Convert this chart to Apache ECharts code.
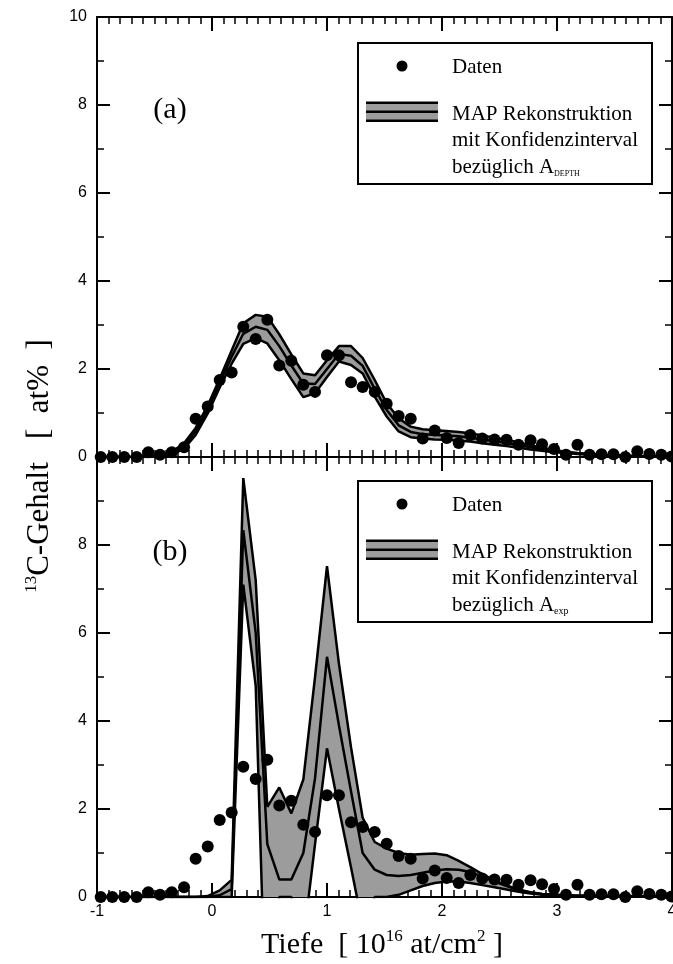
<!DOCTYPE html>
<html>
<head>
<meta charset="utf-8">
<script src="https://cdn.jsdelivr.net/npm/echarts@6/dist/echarts.min.js"></script>
<style>
html,body{margin:0;padding:0;background:#fff;}
#c{width:673px;height:964px;}
</style>
</head>
<body>
<div id="c"></div>
<script>
// ---- data (depth in 10^16 at/cm^2, 13C content in at%) ----
const depth = [-0.968,-0.867,-0.763,-0.655,-0.554,-0.452,-0.350,-0.243,-0.142,-0.037,
  0.067,0.171,0.272,0.380,0.481,0.585,0.690,0.794,0.896,1.000,
  1.104,1.209,1.310,1.415,1.519,1.623,1.728,1.832,1.937,2.041,
  2.145,2.246,2.350,2.457,2.561,2.665,2.770,2.870,2.974,3.078,
  3.178,3.283,3.387,3.491,3.594,3.698,3.803,3.907,3.996];

const daten = [0,0,0,0,0.11,0.05,0.11,0.22,0.87,1.15,
  1.75,1.92,2.96,2.68,3.12,2.08,2.19,1.64,1.48,2.31,
  2.31,1.70,1.59,1.48,1.21,0.93,0.87,0.42,0.60,0.43,
  0.32,0.50,0.42,0.40,0.39,0.28,0.38,0.29,0.18,0.05,
  0.28,0.05,0.06,0.06,0,0.13,0.07,0.05,0.01];

// (a) MAP reconstruction, confidence interval w.r.t. A_DEPTH
const topLow = [0,0,0,0,0,0.01,0.05,0.19,0.50,0.99,
  1.58,2.12,2.57,2.70,2.58,2.20,1.77,1.36,1.45,1.82,
  2.17,2.09,1.90,1.37,0.92,0.58,0.45,0.42,0.40,0.39,
  0.37,0.35,0.31,0.28,0.25,0.21,0.17,0.14,0.11,0.09,
  0.07,0.05,0.04,0.03,0.02,0.015,0.01,0.005,0.005];
const topMid = [0,0,0,0,0.005,0.02,0.08,0.25,0.58,1.08,
  1.68,2.28,2.80,2.96,2.89,2.52,2.08,1.67,1.66,2.00,
  2.34,2.30,2.07,1.55,1.07,0.72,0.57,0.52,0.50,0.49,
  0.47,0.44,0.40,0.36,0.32,0.27,0.22,0.18,0.13,0.10,
  0.08,0.06,0.045,0.035,0.025,0.02,0.012,0.008,0.008];
const topUp = [0,0,0,0,0.01,0.04,0.12,0.31,0.66,1.17,
  1.78,2.42,3.04,3.23,3.19,2.79,2.33,1.90,1.86,2.20,
  2.52,2.52,2.25,1.75,1.22,0.88,0.69,0.63,0.61,0.59,
  0.57,0.54,0.49,0.44,0.39,0.33,0.27,0.21,0.16,0.12,
  0.09,0.07,0.05,0.04,0.03,0.02,0.015,0.01,0.01];

// (b) MAP reconstruction, confidence interval w.r.t. A_exp
const botLow = [0,0,0,0,0,0,0,0,0,0,
  0,0,7.1,4.8,-4.0,0,0,-1.0,1.2,3.38,
  2.0,0.67,-0.65,0,0,0.05,0.15,0.25,0.32,0.35,
  0.35,0.32,0.27,0.22,0.17,0.12,0.08,0.05,0.04,0.03,
  0.02,0.02,0.02,0.015,0.01,0.01,0.01,0.005,0.005];
const botMid = [0,0,0,0,0,0,0,0,0,0,
  0.04,0.18,8.34,6.0,1.2,0.4,0.4,1.0,2.7,5.46,
  3.9,2.4,1.0,0.62,0.5,0.48,0.5,0.55,0.6,0.63,
  0.62,0.57,0.46,0.35,0.25,0.16,0.1,0.07,0.05,0.04,
  0.03,0.03,0.02,0.02,0.015,0.01,0.01,0.008,0.008];
const botUp = [0,0,0,0,0,0,0,0,0,0.02,
  0.15,0.39,9.52,7.2,2.05,2.49,1.90,2.67,5.0,7.52,
  5.3,3.4,1.8,1.25,1.1,1.0,0.96,0.98,0.99,0.95,
  0.82,0.68,0.52,0.38,0.26,0.17,0.11,0.07,0.05,0.04,
  0.03,0.03,0.02,0.02,0.02,0.02,0.01,0.01,0.01];

const xRange = [-1, 4];
const yRange = [0, 10];

// ---- styling ----
const BLACK = '#000';
const GRAY = '#9c9c9c';
const SANS = 'Liberation Sans, Arial, sans-serif';
const SERIF = 'Liberation Serif, Times New Roman, serif';

function xAxisCfg(gridIndex, position, showLabel) {
  return {
    type: 'value', gridIndex: gridIndex, position: position,
    min: xRange[0], max: xRange[1], interval: 1,
    axisLine: {show: true, onZero: false, lineStyle: {color: BLACK, width: 2}},
    axisTick: {show: true, inside: true, length: 14, lineStyle: {color: BLACK, width: 2}},
    minorTick: {show: true, splitNumber: 10, length: 7, lineStyle: {color: BLACK, width: 1.5}},
    splitLine: {show: false}, minorSplitLine: {show: false},
    axisLabel: {show: showLabel, color: BLACK, fontFamily: SANS, fontSize: 16, margin: 7,
      showMinLabel: true, showMaxLabel: true, hideOverlap: false}
  };
}
function yAxisCfg(gridIndex, position, showLabel, showMax) {
  return {
    type: 'value', gridIndex: gridIndex, position: position,
    min: yRange[0], max: yRange[1], interval: 2,
    axisLine: {show: true, onZero: false, lineStyle: {color: BLACK, width: 2}},
    axisTick: {show: true, inside: true, length: 13, lineStyle: {color: BLACK, width: 2}},
    minorTick: {show: true, splitNumber: 2, length: 7, lineStyle: {color: BLACK, width: 1.5}},
    splitLine: {show: false}, minorSplitLine: {show: false},
    axisLabel: {show: showLabel, color: BLACK, fontFamily: SANS, fontSize: 16, margin: 10,
      showMinLabel: true, showMaxLabel: showMax, hideOverlap: false}
  };
}

function band(gi, low, up) {
  return {
    type: 'custom', xAxisIndex: gi * 2, yAxisIndex: gi * 2, silent: true, z: 1,
    animation: false,
    data: depth.map((x, i) => [x, low[i], up[i]]),
    encode: {x: 0, y: [1, 2]},
    renderItem: function (params, api) {
      if (params.dataIndexInside !== 0) return null;
      const n = depth.length;
      const pts = [];
      for (let j = 0; j < n; j++) pts.push(api.coord([api.value(0, j), api.value(1, j)]));
      for (let j = n - 1; j >= 0; j--) pts.push(api.coord([api.value(0, j), api.value(2, j)]));
      const cs = params.coordSys;
      return {
        type: 'polygon', shape: {points: pts},
        style: {fill: GRAY, stroke: null},
        clipPath: {type: 'rect', shape: {x: cs.x, y: cs.y, width: cs.width, height: cs.height}}
      };
    }
  };
}
function curve(gi, vals) {
  return {
    type: 'line', xAxisIndex: gi * 2, yAxisIndex: gi * 2, z: 2, silent: true, animation: false,
    data: depth.map((x, i) => [x, vals[i]]),
    symbol: 'none', showSymbol: false, clip: true,
    lineStyle: {color: BLACK, width: 2.5}
  };
}
function dots(gi) {
  return {
    type: 'scatter', xAxisIndex: gi * 2, yAxisIndex: gi * 2, z: 3, silent: true, animation: false,
    data: depth.map((x, i) => [x, daten[i]]),
    symbol: 'circle', symbolSize: 12, itemStyle: {color: BLACK, opacity: 1}
  };
}

function legendGroup(top, subText, subSize) {
  const L = 358, W = 294, H = 141;
  const f = '21px ' + SERIF;
  return {
    type: 'group', silent: true, z: 100,
    children: [
      {type: 'rect', shape: {x: L, y: top, width: W, height: H}, style: {fill: '#fff', stroke: BLACK, lineWidth: 2}},
      {type: 'circle', shape: {cx: 402, cy: top + 23, r: 5.5}, style: {fill: BLACK}},
      {type: 'text', x: 452, y: top + 24, style: {text: 'Daten', font: f, fill: BLACK, verticalAlign: 'middle'}},
      {type: 'rect', shape: {x: 366, y: top + 59, width: 72, height: 19}, style: {fill: GRAY}},
      {type: 'rect', shape: {x: 366, y: top + 58.5, width: 72, height: 2.5}, style: {fill: BLACK}},
      {type: 'rect', shape: {x: 366, y: top + 67.5, width: 72, height: 2.5}, style: {fill: BLACK}},
      {type: 'rect', shape: {x: 366, y: top + 76.5, width: 72, height: 2.5}, style: {fill: BLACK}},
      {type: 'text', x: 452, y: top + 71, style: {text: 'MAP Rekonstruktion', font: f, fill: BLACK, verticalAlign: 'middle'}},
      {type: 'text', x: 452, y: top + 97, style: {text: 'mit Konfidenzinterval', font: f, fill: BLACK, verticalAlign: 'middle'}},
      {type: 'text', x: 452, y: top + 122, style: {
        text: '{m|bezüglich A}{s|' + subText + '}', fill: BLACK, verticalAlign: 'middle',
        rich: {
          m: {fontFamily: SERIF, fontSize: 21, lineHeight: 26, verticalAlign: 'bottom'},
          s: {fontFamily: SERIF, fontSize: subSize, lineHeight: subSize, verticalAlign: 'bottom', padding: [0, 0, 0, 0]}
        }
      }}
    ]
  };
}

const chart = echarts.init(document.getElementById('c'), null, {renderer: 'canvas', width: 673, height: 964});

const option = {
  backgroundColor: '#fff',
  animation: false,
  grid: [
    {left: 97, top: 17, width: 575, height: 440, containLabel: false, outerBoundsMode: 'none'},
    {left: 97, top: 457, width: 575, height: 440, containLabel: false, outerBoundsMode: 'none'}
  ],
  xAxis: [
    xAxisCfg(0, 'bottom', false),
    xAxisCfg(0, 'top', false),
    xAxisCfg(1, 'bottom', true),
    xAxisCfg(1, 'top', false)
  ],
  yAxis: [
    yAxisCfg(0, 'left', true, true),
    yAxisCfg(0, 'right', false, true),
    yAxisCfg(1, 'left', true, false),
    yAxisCfg(1, 'right', false, false)
  ],
  series: [
    band(0, topLow, topUp),
    curve(0, topLow), curve(0, topMid), curve(0, topUp),
    dots(0),
    band(1, botLow, botUp),
    curve(1, botLow), curve(1, botMid), curve(1, botUp),
    dots(1)
  ],
  graphic: [
    legendGroup(43, 'DEPTH', 8),
    legendGroup(481, 'exp', 10),
    {type: 'text', x: 170, y: 110, silent: true, style: {text: '(a)', font: '30px ' + SERIF, fill: BLACK, align: 'center', verticalAlign: 'middle'}},
    {type: 'text', x: 170, y: 552, silent: true, style: {text: '(b)', font: '30px ' + SERIF, fill: BLACK, align: 'center', verticalAlign: 'middle'}},
    {type: 'text', x: 382, y: 945, silent: true, style: {
      text: '{t|Tiefe  [ 10}{s|16}{t| at/cm}{s|2}{t| ]}', fill: BLACK, align: 'center', verticalAlign: 'middle',
      rich: {
        t: {fontFamily: SERIF, fontSize: 30, lineHeight: 34},
        s: {fontFamily: SERIF, fontSize: 17, lineHeight: 17, verticalAlign: 'top'}
      }
    }},
    {type: 'text', x: 40, y: 466, rotation: Math.PI / 2, silent: true, style: {
      text: '{s|13}{t|C-Gehalt   [  at%  ]}', fill: BLACK, align: 'center', verticalAlign: 'middle',
      rich: {
        t: {fontFamily: SERIF, fontSize: 31, lineHeight: 34},
        s: {fontFamily: SERIF, fontSize: 17, lineHeight: 17, verticalAlign: 'top'}
      }
    }}
  ]
};
chart.setOption(option);
</script>
</body>
</html>
